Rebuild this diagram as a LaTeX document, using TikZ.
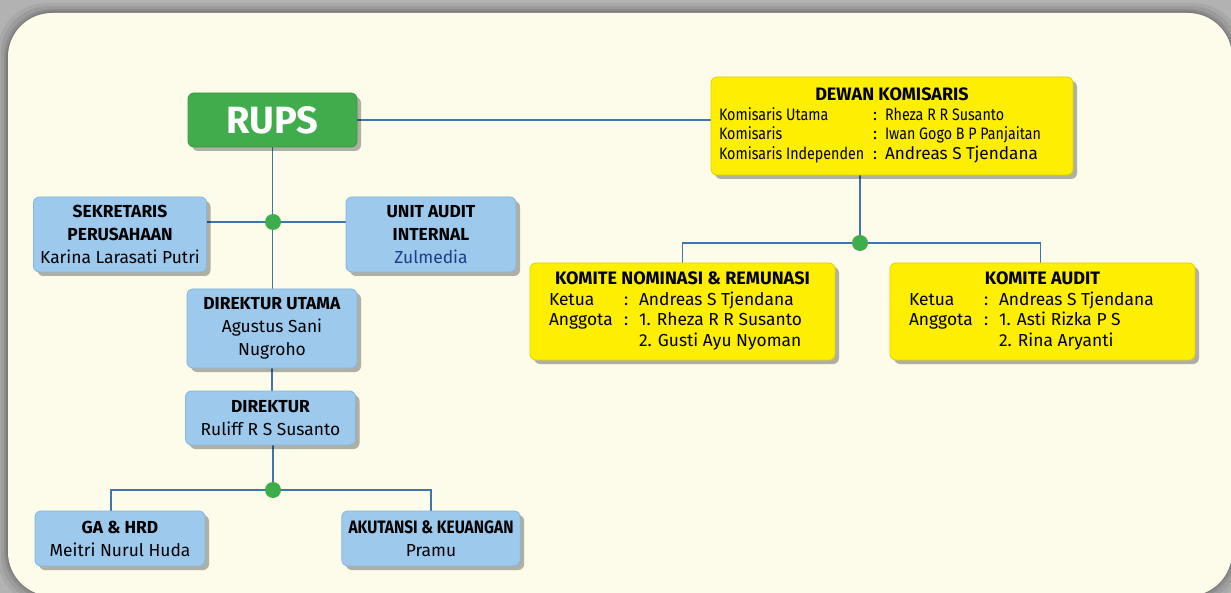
\documentclass[tikz,border=0pt]{standalone}
\usepackage{fontspec}
\setmainfont{Fira Sans}
\newfontfamily\narrowfont[FakeStretch=0.86]{Fira Sans}
\usepackage{xcolor}
\usetikzlibrary{positioning,shadows,backgrounds}

\definecolor{bggray}{HTML}{B2B2B2}
\definecolor{panelcream}{HTML}{FDFBEA}
\definecolor{rupsgreen}{HTML}{41AC4B}
\definecolor{rupsline}{HTML}{389A42}
\definecolor{boxblue}{HTML}{9DC9EC}
\definecolor{boxline}{HTML}{86B5DC}
\definecolor{komyellow}{HTML}{FEEE00}
\definecolor{komline}{HTML}{E3D200}
\definecolor{linkblue}{HTML}{3F74AD}
\definecolor{dotgreen}{HTML}{3DAE4B}
\definecolor{zulblue}{HTML}{1F3C88}

\begin{document}
\begin{tikzpicture}[x=0.5pt, y=-0.5pt,
    orgbox/.style={rectangle, rounded corners=3pt, align=center,
        drop shadow={shadow xshift=2pt, shadow yshift=-2pt, fill=black, opacity=.3}},
    rupsbox/.style={orgbox, fill=rupsgreen, draw=rupsline, text=white, minimum width=84.5pt, minimum height=27pt,
        font=\fontsize{19}{22}\selectfont\bfseries},
    bluebox/.style={orgbox, fill=boxblue, draw=boxline, minimum width=85pt, font=\fontsize{8.7}{11.5}\selectfont},
    yellowbox/.style={orgbox, fill=komyellow, draw=komline},
    komitebox/.style={yellowbox, minimum width=152.5pt, minimum height=48.5pt, inner xsep=9pt, font=\fontsize{8.7}{10.25}\selectfont},
    link/.style={draw=linkblue, line width=0.7pt},
    junction/.style={circle, fill=dotgreen, inner sep=0pt, minimum size=8pt}
]
\useasboundingbox (0,0) rectangle (1231,593);

% background and panel
\begin{scope}[on background layer]
\fill[bggray] (0,0) rectangle (1231,593);
\foreach \d/\o in {10/0.05, 7/0.07, 4/0.09, 2/0.12}
    \fill[black, opacity=\o, rounded corners=24pt] (8-\d,13-\d) rectangle (1232+\d,596+\d);
\fill[panelcream, rounded corners=22pt] (8,13) rectangle (1232,596);
\end{scope}

% RUPS and Dewan Komisaris
\node (rups) [rupsbox] at (272.5,120) {RUPS};
\node (dekom) [yellowbox, minimum width=181pt, minimum height=49pt, inner xsep=4pt,
    font=\fontsize{8.3}{9.75}\selectfont] at (892,126) {%
    \begin{tabular}{@{}p{77pt}@{}p{6pt}@{}p{90pt}@{}}
    \multicolumn{3}{@{}c@{}}{\fontsize{9}{9.75}\selectfont\bfseries DEWAN KOMISARIS}\\
    \narrowfont Komisaris Utama & : & \narrowfont Rheza R R Susanto\\
    \narrowfont Komisaris & : & \narrowfont Iwan Gogo B P Panjaitan\\
    \narrowfont Komisaris Independen & : & \fontsize{8.6}{9.75}\selectfont Andreas S Tjendana
    \end{tabular}};

% staff under RUPS
\node (sekper) [bluebox, minimum height=37.5pt] at (120,234.5) {\textbf{SEKRETARIS}\\\textbf{PERUSAHAAN}\\Karina Larasati Putri};
\node (uai) [bluebox, minimum height=37.5pt] at (431,234.5) {\textbf{UNIT AUDIT}\\\textbf{INTERNAL}\\\textcolor{zulblue}{Zulmedia}};
\node (dirut) [bluebox, minimum height=39.5pt] at (272,328.5) {\textbf{DIREKTUR UTAMA}\\Agustus Sani\\Nugroho};
\node (dir) [bluebox, minimum height=27pt] at (270.5,418) {\textbf{DIREKTUR}\\Ruliff R S Susanto};
\node (gahrd) [bluebox, minimum height=27.5pt] at (120,538.5) {\textbf{GA \& HRD}\\Meitri Nurul Huda};
\node (aku) [bluebox, minimum height=27.5pt] at (431,538.5) {{\narrowfont\bfseries\fontsize{9}{11.5}\selectfont AKUTANSI \& KEUANGAN}\\Pramu};

% komite
\node (komnom) [komitebox] at (682.5,311.5) {%
    \begin{tabular}{@{}p{37.5pt}@{}p{7.5pt}@{}p{88.5pt}@{}}
    \multicolumn{3}{@{}c@{}}{\fontsize{9}{10.25}\selectfont\bfseries KOMITE NOMINASI \& REMUNASI}\\
    Ketua & : & Andreas S Tjendana\\
    Anggota & : & 1. Rheza R R Susanto\\
    & & 2. Gusti Ayu Nyoman
    \end{tabular}};
\node (komaud) [komitebox] at (1042.5,311.5) {%
    \begin{tabular}{@{}p{37.5pt}@{}p{7.5pt}@{}p{88.5pt}@{}}
    \multicolumn{3}{@{}c@{}}{\fontsize{9}{10.25}\selectfont\bfseries KOMITE AUDIT}\\
    Ketua & : & Andreas S Tjendana\\
    Anggota & : & 1. Asti Rizka P S\\
    & & 2. Rina Aryanti
    \end{tabular}};

% junction dots
\node (jsek) [junction] at (273,222) {};
\node (jkom) [junction] at (860,243) {};
\node (jdir) [junction] at (273,490) {};

% connectors
\begin{scope}[on background layer]
\draw[link] (rups.south) -- (rups.south |- dirut.north);
\draw[link] (dirut.south) -- (dirut.south |- dir.north);
\draw[link] (dir.south -| jdir) -- (jdir);
\draw[link] (sekper.east |- jsek) -- (uai.west |- jsek);
\draw[link] (rups.east) -- (rups.east -| dekom.west);
\draw[link] (dekom.south -| jkom) -- (jkom);
\draw[link] (komnom.north) |- (jkom) -| ([xshift=-1pt]komaud.north);
\draw[link] ([xshift=-4.5pt]gahrd.north) |- (jdir) -| (aku.north);
\end{scope}

\end{tikzpicture}
\end{document}
